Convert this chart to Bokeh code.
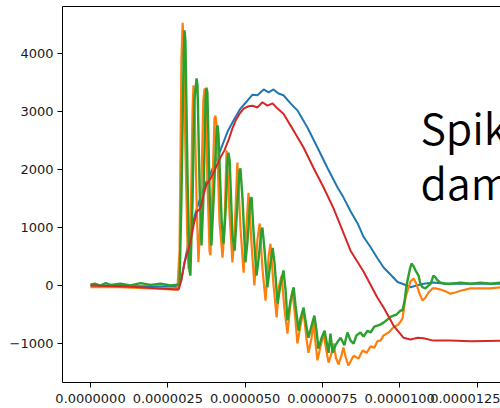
from bokeh.plotting import figure
from bokeh.models import Range1d, FixedTicker, CustomJSTickFormatter, LinearAxis, Label
from bokeh.embed import file_html
from bokeh.resources import INLINE

# time in microseconds, values in raw units
blue_t = [0, 2.85, 2.94, 3.07, 3.23, 3.40, 3.56, 3.72, 3.88, 4.04, 4.20, 4.43, 4.62, 4.85, 5.08,
          5.24, 5.40, 5.60, 5.76, 5.92, 6.08, 6.24, 6.47, 6.69, 7.02, 7.34, 7.66, 7.99, 8.18,
          8.41, 8.64, 8.83, 9.06, 9.28, 9.48, 9.70, 9.93, 10.09, 10.35, 10.54, 10.77, 11.09,
          11.48, 11.97, 12.61, 13.26]
blue_v = [0, -20, 120, 470, 910, 1260, 1530, 1760, 1930, 2140, 2330, 2650, 2840, 3050, 3190,
          3290, 3280, 3380, 3330, 3380, 3310, 3280, 3140, 3020, 2720, 2380, 2030, 1690, 1520,
          1280, 1070, 840, 660, 470, 310, 190, 60, 30, -30, 0, 30, 50,
          30, 30, 30, 30]

orange_t = [0, 0.97, 1.94, 2.81, 2.88, 2.94, 2.98, 3.01, 3.07, 3.14, 3.17, 3.23, 3.30, 3.33, 3.36,
            3.43, 3.49, 3.56, 3.65, 3.69, 3.72, 3.78, 3.85, 3.88, 3.95, 4.01, 4.04, 4.08, 4.17,
            4.27, 4.33, 4.40, 4.50, 4.59, 4.66, 4.75, 4.85, 4.95, 5.04, 5.11, 5.21, 5.30, 5.40,
            5.47, 5.56, 5.66, 5.76, 5.82, 5.92, 6.02, 6.10, 6.18, 6.27, 6.37, 6.47, 6.53, 6.63,
            6.69, 6.79, 6.89, 6.98, 7.05, 7.15, 7.21, 7.28, 7.34, 7.44, 7.54, 7.62, 7.70, 7.78,
            7.86, 7.94, 8.02, 8.12, 8.18, 8.26, 8.34, 8.51, 8.67, 8.80, 8.93, 9.06, 9.18, 9.28,
            9.38, 9.48, 9.64, 9.80, 9.96, 10.09, 10.19, 10.35, 10.45, 10.54, 10.64, 10.74, 10.83,
            10.93, 11.06, 11.16, 11.32, 11.48, 11.64, 11.80, 11.97, 12.29, 12.61, 12.94, 13.26]
orange_v = [-30, -30, -50, -70, 600, 3880, 4530, 4220, 2330, 600, 290, 780, 3020, 3450, 3280,
            1470, 400, 1120, 3190, 3400, 3280, 1810, 590, 520, 1810, 2880, 2930, 2760, 1120,
            480, 950, 2330, 1200, 400, 900, 2120, 1000, 220, 1000, 1600, 700, 0, 800,
            1070, 300, -260, 500, 720, 0, -550, 0, 170, -400, -830, -300, -90, -600,
            -1000, -700, -430, -900, -1160, -900, -600, -1000, -1290, -1050, -830, -1100, -1330, -1200,
            -1000, -1250, -1360, -1200, -1070, -1250, -1380, -1210, -1260, -1120, -1160, -1050, -1070, -960,
            -950, -860, -810, -720, -670, -570, -200, 70, 120, 30, -140, -260, -210,
            -120, -50, -50, -70, -100, -140, -120, -90, -50, -50, -50, -30]

green_t = [0, 0.16, 0.32, 0.49, 0.65, 0.97, 1.29, 1.62, 1.94, 2.26, 2.59, 2.88, 2.94, 3.01, 3.04,
           3.07, 3.14, 3.20, 3.23, 3.30, 3.36, 3.43, 3.46, 3.53, 3.59, 3.65, 3.72, 3.75, 3.78,
           3.85, 3.91, 3.98, 4.08, 4.11, 4.14, 4.24, 4.30, 4.37, 4.43, 4.46, 4.50, 4.59, 4.66,
           4.72, 4.82, 4.85, 4.92, 5.01, 5.08, 5.17, 5.21, 5.27, 5.37, 5.43, 5.53, 5.56, 5.63,
           5.72, 5.79, 5.89, 5.95, 6.05, 6.14, 6.24, 6.31, 6.37, 6.47, 6.57, 6.63, 6.73, 6.79,
           6.89, 6.95, 7.05, 7.15, 7.24, 7.31, 7.37, 7.47, 7.57, 7.63, 7.70, 7.76, 7.83, 7.92,
           8.02, 8.09, 8.21, 8.31, 8.41, 8.51, 8.60, 8.73, 8.83, 8.96, 9.06, 9.18, 9.28, 9.38,
           9.48, 9.57, 9.70, 9.80, 9.90, 10.03, 10.09, 10.16, 10.22, 10.32, 10.38, 10.45, 10.51,
           10.61, 10.67, 10.74, 10.83, 10.93, 11.00, 11.09, 11.16, 11.22, 11.32, 11.48, 11.64,
           11.97, 12.29, 12.61, 12.94, 13.26]
green_v = [20, 30, 0, 40, 10, 30, 0, 40, 10, 30, 0, 20, 1460, 3880, 4400,
           4220, 1810, 260, 170, 1470, 3190, 3570, 3450, 1640, 690, 1470, 3190, 3410, 3330,
           1640, 690, 1470, 2710, 2760, 2590, 1120, 720, 1290, 2160, 2290, 2160, 860, 600,
           1120, 1980, 2020, 1460, 400, 780, 1500, 1520, 950, 170, 430, 950, 1000, 600,
           -30, 260, 650, 400, -310, 0, 260, -90, -600, -260, -30, -340, -780, -570,
           -380, -600, -900, -690, -520, -770, -1090, -910, -780, -950, -1160, -830, -1160, -1030,
           -950, -900, -1030, -810, -950, -1000, -860, -810, -880, -780, -810, -710, -690, -670,
           -640, -600, -540, -520, -500, -430, -430, -260, 0, 260, 380, 330, 260,
           170, 30, -30, -50, 0, 30, 170, 140, 90, 50, 30, 30,
           50, 30, 50, 30, 50]

red_t = [0, 1.29, 2.85, 2.94, 3.04, 3.14, 3.23, 3.33, 3.43, 3.56, 3.65, 3.75, 3.88, 4.04, 4.20,
         4.33, 4.46, 4.59, 4.69, 4.82, 4.95, 5.11, 5.24, 5.40, 5.56, 5.72, 5.89, 6.05, 6.24,
         6.57, 6.89, 7.21, 7.54, 7.86, 8.09, 8.41, 8.83, 9.28, 9.48, 9.80, 10.12, 10.35, 10.58,
         10.77, 11.09, 11.64, 12.29, 13.26]
red_v = [0, -20, -70, 90, 400, 570, 740, 1030, 1260, 1340, 1550, 1740, 1840, 2020, 2200,
         2330, 2500, 2710, 2840, 2960, 3050, 3090, 3100, 3070, 3160, 3100, 3140, 3050, 2960,
         2670, 2380, 2030, 1690, 1330, 1030, 600, 240, -210, -380, -690, -900, -930, -900,
         -910, -950, -950, -960, -950]

x_ticks = [0, 2.5, 5, 7.5, 10, 12.5]
y_ticks = [-1000, 0, 1000, 2000, 3000, 4000]
note_lines = ["Spike", "damping"]

TICK_FONT = "'DejaVu Sans'"
NOTE_FONT = "'Noto Sans CJK JP DemiLight', 'Noto Sans CJK JP Light', 'Noto Sans CJK JP'"

p = figure(frame_width=438, frame_height=376,
           x_range=Range1d(-0.906, 13.26), y_range=Range1d(-1672, 4810),
           output_backend="svg", toolbar_location=None,
           min_border_left=62, min_border_right=0, min_border_top=6, min_border_bottom=26)
p.outline_line_color = None
p.xgrid.visible = False
p.ygrid.visible = False
p.background_fill_color = "white"

for ax in (p.xaxis[0], p.yaxis[0]):
    ax.axis_line_color = "black"
    ax.axis_line_width = 1
    ax.major_tick_line_color = "black"
    ax.major_tick_out = 5
    ax.major_tick_in = 0
    ax.minor_tick_out = 0
    ax.minor_tick_in = 0
    ax.major_label_text_font = TICK_FONT
    ax.major_label_text_font_size = "13px"
    ax.major_label_text_color = "#1a1a1a"
p.xaxis.major_label_standoff = 6
p.yaxis.major_label_standoff = 4

p.xaxis.ticker = FixedTicker(ticks=x_ticks)
p.yaxis.ticker = FixedTicker(ticks=y_ticks)
p.xaxis.formatter = CustomJSTickFormatter(code="return (tick*1e-6).toFixed(7);")
p.yaxis.formatter = CustomJSTickFormatter(code="return tick < 0 ? '\u2212' + Math.abs(tick).toFixed(0) : tick.toFixed(0);")

top = LinearAxis(ticker=FixedTicker(ticks=[]), major_tick_out=0, major_tick_in=0,
                 minor_tick_out=0, minor_tick_in=0, major_label_text_font_size="0px",
                 axis_line_color="black", major_label_standoff=0)
p.add_layout(top, "above")

p.line(blue_t, blue_v, line_color="#1f77b4", line_width=2)
p.line(orange_t, orange_v, line_color="#ff7f0e", line_width=2.2)
p.line(green_t, green_v, line_color="#2ca02c", line_width=2.4)
p.line(red_t, red_v, line_color="#d62728", line_width=2)

p.add_layout(Label(x=10.67, y=2750, text=note_lines[0], text_font=NOTE_FONT,
                   text_font_size="43px", text_color="black", text_baseline="alphabetic"))
p.add_layout(Label(x=10.67, y=1800, text=note_lines[1], text_font=NOTE_FONT,
                   text_font_size="43px", text_color="black", text_baseline="alphabetic"))

open("out.html", "w").write(file_html(p, INLINE))
